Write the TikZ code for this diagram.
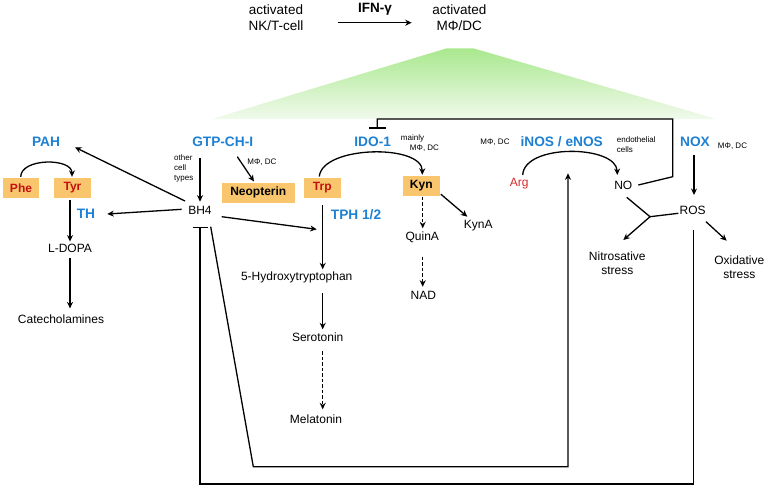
\documentclass[tikz,border=0pt]{standalone}
\usepackage{fontspec}
\setmainfont{Liberation Sans}
\usetikzlibrary{arrows.meta,calc}
\definecolor{eblue}{HTML}{1E80D2}
\definecolor{boxor}{HTML}{F9C66E}
\definecolor{dred}{HTML}{C41010}
\definecolor{argred}{HTML}{D42A2A}
\definecolor{gtop}{HTML}{A9E88E}
\definecolor{gbot}{HTML}{F1FAEC}
\begin{document}
\begin{tikzpicture}[x=1pt,y=-1pt,
 ln/.style={line width=1.3pt},
 arr/.style={line width=1.3pt,-{Stealth[length=6.5pt,width=6pt]}},
 darr/.style={arr,dash pattern=on 3.5pt off 2pt},
 inh/.style={line width=1.3pt,-{Bar[width=17pt,line width=1.3pt]}},
 txt/.style={font=\fontsize{12}{14}\selectfont,inner sep=1pt},
 top/.style={font=\fontsize{13.5}{15.5}\selectfont,inner sep=1pt,align=center},
 enz/.style={font=\fontsize{13.7}{15}\selectfont\bfseries,text=eblue,inner sep=1pt},
 sm/.style={font=\fontsize{8}{10}\selectfont,inner sep=0pt},
 metab/.style={fill=boxor,font=\fontsize{12}{14}\selectfont\bfseries,minimum height=20pt,inner sep=0pt},
]
\useasboundingbox (0,0) rectangle (767,488);
% green cone
\shade[top color=gtop,bottom color=gbot] (446.7,48.3) -- (473.3,48.3) -- (716.7,119) -- (211.7,119) -- cycle;
% top
\node[top] (NK) at (276,17.5) {activated\\NK/T-cell};
\node[top,font=\fontsize{13.5}{15.5}\selectfont\bfseries] (IFN) at (375,9.3) {IFN-γ};
\node[top] (MDC) at (459.3,17.5) {activated\\MΦ/DC};
\draw[arr] ($(IFN)+(-37.3,13.4)$) -- ($(IFN)+(36.7,13.4)$);
% left part
\node[enz] (PAH) at (46,142) {PAH};
\node[metab,minimum width=36.3pt,text=dred] (Phe) at (21,188) {Phe};
\node[metab,minimum width=37pt,text=dred] (Tyr) at (72.5,188) {Tyr};
\node[enz] (TH) at (86,214) {TH};
\node[txt] (LDOPA) at (70,248) {L-DOPA};
\node[txt] (Cat) at (61,319) {Catecholamines};
\node[enz] (GTP) at (222.7,142) {GTP-CH-I};
\node[sm,align=left,anchor=west,font=\fontsize{8}{10}\selectfont] (other) at (174,168.3) {other\\cell\\types};
\node[txt] (BH4) at (200,210) {BH4};
\node[sm] (mdc1) at (262,162.7) {MΦ, DC};
\node[metab,minimum width=73.3pt] (Neo) at (258.3,192.7) {Neopterin};
\node[metab,minimum width=36.7pt,text=dred] (Trp) at (322.3,187.7) {Trp};
\node[enz] (TPH) at (356,215) {TPH 1/2};
\node[txt] (HTP) at (296.7,277) {5-Hydroxytryptophan};
\node[txt] (Sero) at (317.7,337.3) {Serotonin};
\node[txt] (Mela) at (316,419) {Melatonin};
\node[enz] (IDO) at (372.7,141.5) {IDO-1};
\node[sm] (mainly) at (412.5,138.3) {mainly};
\node[sm] (mdc2) at (424.5,148.3) {MΦ, DC};
\node[metab,minimum width=37.3pt] (Kyn) at (421.3,186) {Kyn};
\node[txt] (QuinA) at (422.3,237.3) {QuinA};
\node[txt] (NAD) at (423.3,295) {NAD};
\node[txt] (KynA) at (478.3,226) {KynA};
\node[sm] (mdc3) at (495,142.7) {MΦ, DC};
\node[enz] (NOS) at (561.7,142) {iNOS / eNOS};
\node[sm,align=left,anchor=west] (endo) at (616.7,144.7) {endothelial\\cells};
\node[txt,text=argred] (Arg) at (519.3,183.3) {Arg};
\node[txt] (NO) at (623.3,185) {NO};
\node[enz] (NOX) at (695,142) {NOX};
\node[sm] (mdc4) at (732.5,146.7) {MΦ, DC};
\node[txt] (ROS) at (692.7,210) {ROS};
\node[txt,align=center,font=\fontsize{12}{14}\selectfont] (Nitro) at (617.3,263) {Nitrosative\\stress};
\node[txt,align=center,font=\fontsize{12}{14}\selectfont] (Oxid) at (739.3,267) {Oxidative\\stress};
\coordinate (J) at (650,216.7);
% curved arrows
\draw[arr] ($(Phe.north)+(-0.3,-1)$) .. controls ($(Phe.north)+(0,-20)$) and ($(Tyr.north)+(-0.5,-20)$) .. ($(Tyr.north)+(-0.5,-1)$);
\draw[arr] ($(Trp.north)+(-3,-1)$) .. controls ($(Trp.north)+(0,-32)$) and ($(Kyn.north)+(1,-32)$) .. ($(Kyn.north)+(1,-1)$);
\draw[arr] ($(Arg)+(3.4,-8.3)$) .. controls ($(Arg)+(5,-40)$) and ($(NO)+(-7,-40)$) .. ($(NO)+(-6,-10)$);
% straight arrows
\draw[arr] ($(Tyr.south)+(-2.5,2)$) -- ($(LDOPA.north)+(0,-1)$);
\draw[arr] ($(LDOPA.south)+(0,5)$) -- ($(Cat.north)+(9,-5)$);
\draw[arr] ($(BH4)+(-15,-9)$) -- ($(PAH)+(29,5.3)$);
\draw[arr] ($(BH4)+(-18.3,-0.7)$) -- ($(TH)+(21.3,0)$);
\draw[arr] ($(GTP)+(-22.7,16)$) -- ($(BH4)+(0,-8.3)$);
\draw[arr] ($(GTP)+(14.6,14.7)$) -- ($(Neo.north)+(-4.3,-1)$);
\draw[arr] ($(BH4)+(21.7,6.7)$) -- ($(TPH)+(-39.3,14.3)$);
\draw[arr] ($(Trp.south)+(0.4,7.3)$) -- ($(HTP)+(26,-7.7)$);
\draw[arr] ($(HTP)+(26,16.3)$) -- ($(Sero)+(5,-8)$);
\draw[darr] ($(Sero)+(5,13.7)$) -- ($(Mela)+(6.7,-9.7)$);
\draw[darr] ($(Kyn.south)+(1.4,0.7)$) -- ($(QuinA)+(0.4,-9)$);
\draw[darr] ($(QuinA)+(0.4,19.4)$) -- ($(NAD)+(-0.6,-8.3)$);
\draw[arr] ($(Kyn.south east)+(0.7,-2)$) -- ($(KynA)+(-11,-9.3)$);
\draw[arr] ($(NOX)+(-1,13)$) -- ($(ROS)+(1.3,-15)$);
\draw[ln] ($(NO)+(3.4,12.3)$) -- (J);
\draw[ln] ($(ROS)+(-14.4,3.3)$) -- (J);
\draw[arr] (J) -- ($(Nitro)+(6,-23)$);
\draw[arr] ($(ROS)+(13.3,11.7)$) -- ($(Oxid)+(-12.6,-26.3)$);
% feedback loops
\draw[inh] ($(NO)+(15,0)$) -- (672.7,176.7) -- (672.7,119) -- (377.3,119) -- ($(IDO)+(4.6,-13)$);
\draw[inh,-{Bar[width=15pt,line width=1.3pt]}] ($(ROS)+(0.6,20)$) -- (693.3,484) -- (200,484) -- ($(BH4)+(0,16.7)$);
\draw[arr] ($(BH4)+(10.7,16.7)$) -- (253.3,466.7) -- (568,466.7) -- ($(NOS)+(6.3,31.3)$);
\end{tikzpicture}
\end{document}
